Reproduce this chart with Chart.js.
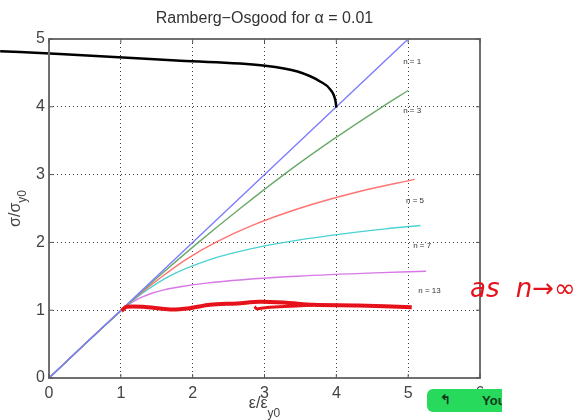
<!DOCTYPE html>
<html>
<head>
<meta charset="utf-8">
<script src="https://cdn.jsdelivr.net/npm/chart.js@4.4.0/dist/chart.umd.min.js"></script>
<style>
  html, body { margin: 0; padding: 0; background: #fff; }
  #wrap { position: relative; width: 582px; height: 420px; overflow: hidden; }
  #note { position: absolute; left: 470px; top: 273px; color: #e5121b;
          font: italic 26px "DejaVu Sans", sans-serif; white-space: nowrap; word-spacing: 8px; }
  #btn { position: absolute; left: 427px; top: 389px; width: 75px; height: 23px;
         background: #27da5b; border-radius: 6px 0 0 6px; overflow: hidden;
         font: bold 13px "Liberation Sans", Arial, sans-serif; color: #12391f; }
  #btn .ic { position: absolute; left: 13px; top: 3px; font-size: 13px; }
  #btn .tx { position: absolute; left: 55px; top: 4px; }
</style>
</head>
<body>
<div id="wrap">
  <canvas id="myChart" width="582" height="420"></canvas>
  <div id="note">as n→∞</div>
  <div id="btn"><span class="ic">↰</span><span class="tx">You</span></div>
</div>
<script>
// Ramberg-Osgood kurver, verdiar lesne av frå biletet
const xTicks = [0, 1, 2, 3, 4, 5, 6];
const yTicks = [0, 1, 2, 3, 4, 5];

const n1Eps = [0, 0.5, 1, 5];
const n1Sig = [0, 0.5, 1, 5];

const n3Eps = [0, 0.5, 1.01, 1.53, 2.08, 2.66, 3.27, 3.93, 4.64, 5.0];
const n3Sig = [0, 0.5, 1, 1.5, 2, 2.5, 3, 3.5, 4, 4.24];

const n5Eps = [0, 0.5, 1.01, 1.28, 1.58, 1.91, 2.32, 2.83, 3.48, 4.32, 5.09];
const n5Sig = [0, 0.5, 1, 1.25, 1.5, 1.75, 2, 2.25, 2.5, 2.75, 2.93];

const n7Eps = [0, 0.5, 1.01, 1.30, 1.67, 2.25, 2.79, 3.28, 3.90, 4.69, 5.17];
const n7Sig = [0, 0.5, 1, 1.25, 1.5, 1.75, 1.9, 2, 2.1, 2.2, 2.25];

const n13Eps = [0, 0.5, 1.01, 1.07, 1.13, 1.21, 1.31, 1.43, 1.60, 1.85, 2.19, 2.70, 3.45, 4.53, 5.25];
const n13Sig = [0, 0.5, 1, 1.05, 1.1, 1.15, 1.2, 1.25, 1.3, 1.35, 1.4, 1.45, 1.5, 1.55, 1.575];

const nNames = ['n = 1', 'n = 3', 'n = 5', 'n = 7', 'n = 13'];

// handteikna merknader
const redX = [1.01, 1.08, 1.31, 1.69, 1.96, 2.24, 2.62, 2.93, 3.3, 3.68, 4.3, 5.05];
const redY = [0.99, 1.05, 1.05, 1.01, 1.03, 1.08, 1.10, 1.125, 1.11, 1.08, 1.07, 1.045];
const loopX = [2.86, 2.9, 2.95, 3.2, 3.68];
const loopY = [1.05, 1.02, 1.03, 1.05, 1.075];
const blackX = [-0.68, 0.15, 1.83, 2.98, 3.46, 3.78, 3.92, 3.99, 4.0];
const blackY = [4.82, 4.78, 4.68, 4.61, 4.52, 4.37, 4.25, 4.075, 3.99];

function pts(xs, ys) {
  return xs.map((x, i) => ({ x: x, y: ys[i] }));
}

const labelPos = [[4.93, 4.66], [4.93, 3.94], [4.97, 2.61], [5.07, 1.95], [5.14, 1.29]];

function curve(data, color, extra) {
  return Object.assign({
    data: data,
    showLine: true,
    borderColor: color,
    borderWidth: 1.4,
    pointRadius: 0,
    cubicInterpolationMode: 'monotone'
  }, extra || {});
}

const boxPlugin = {
  id: 'box',
  afterDraw(chart) {
    const c = chart.ctx;
    const a = chart.chartArea;
    const xs = chart.scales.x;
    const ys = chart.scales.y;
    c.save();
    // ramme
    c.strokeStyle = '#707070';
    c.lineWidth = 2;
    c.strokeRect(a.left, a.top, a.right - a.left, a.bottom - a.top);
    // små tick-strekar innover
    c.lineWidth = 1;
    c.strokeStyle = '#555';
    xTicks.forEach(t => {
      const px = xs.getPixelForValue(t);
      c.beginPath();
      c.moveTo(px, a.bottom); c.lineTo(px, a.bottom - 4);
      c.moveTo(px, a.top); c.lineTo(px, a.top + 4);
      c.stroke();
    });
    yTicks.forEach(t => {
      const py = ys.getPixelForValue(t);
      c.beginPath();
      c.moveTo(a.left, py); c.lineTo(a.left + 4, py);
      c.moveTo(a.right, py); c.lineTo(a.right - 4, py);
      c.stroke();
    });
    // tittel
    c.fillStyle = '#333';
    c.font = '16px "Liberation Sans", Arial, sans-serif';
    c.textAlign = 'center';
    c.textBaseline = 'alphabetic';
    c.fillText('Ramberg\u2212Osgood for \u03b1 = 0.01', (a.left + a.right) / 2, 23);
    // x-aksetittel med senka y0
    c.fillStyle = '#444';
    const big = '16px "Liberation Sans", Arial, sans-serif';
    const small = '12px "Liberation Sans", Arial, sans-serif';
    c.font = big;
    const w1 = c.measureText('\u03b5/\u03b5').width;
    c.font = small;
    const w2 = c.measureText('y0').width;
    let x0 = (a.left + a.right) / 2 - (w1 + w2) / 2;
    c.textAlign = 'left';
    c.font = big;
    c.fillText('\u03b5/\u03b5', x0, 408);
    c.font = small;
    c.fillText('y0', x0 + w1, 417);
    // y-aksetittel
    c.translate(20, (a.top + a.bottom) / 2);
    c.rotate(-Math.PI / 2);
    c.font = big;
    const v1 = c.measureText('\u03c3/\u03c3').width;
    c.font = small;
    const v2 = c.measureText('y0').width;
    x0 = -(v1 + v2) / 2;
    c.font = big;
    c.fillText('\u03c3/\u03c3', x0, 0);
    c.font = small;
    c.fillText('y0', x0 + v1, 6);
    c.restore();
    // n-etikettar
    c.save();
    c.fillStyle = '#333';
    c.font = '8px "Liberation Sans", Arial, sans-serif';
    c.textAlign = 'left';
    c.textBaseline = 'middle';
    nNames.forEach((s, i) => {
      c.fillText(s, xs.getPixelForValue(labelPos[i][0]), ys.getPixelForValue(labelPos[i][1]));
    });
    c.restore();
  }
};

const ctx = document.getElementById('myChart');

new Chart(ctx, {
  type: 'scatter',
  data: {
    datasets: [
      curve(pts(blackX, blackY), '#000', { borderWidth: 2.5, clip: false }),
      curve(pts(redX, redY), '#e5121b', { borderWidth: 4, cubicInterpolationMode: 'default', tension: 0.3 }),
      curve(pts(loopX, loopY), '#e5121b', { borderWidth: 3, cubicInterpolationMode: 'default', tension: 0.3 }),
      curve(pts(n1Eps, n1Sig), 'rgb(125,125,255)'),
      curve(pts(n3Eps, n3Sig), 'rgb(105,170,105)'),
      curve(pts(n5Eps, n5Sig), 'rgb(255,115,115)'),
      curve(pts(n7Eps, n7Sig), 'rgb(75,210,210)'),
      curve(pts(n13Eps, n13Sig), 'rgb(215,120,230)')
    ]
  },
  options: {
    responsive: false,
    animation: false,
    layout: { padding: { top: 39, right: 102, left: 0, bottom: 0 } },
    plugins: {
      legend: { display: false },
      tooltip: { enabled: false },
      title: { display: false }
    },
    scales: {
      x: {
        type: 'linear',
        min: 0,
        max: 6,
        afterBuildTicks: s => { s.ticks = xTicks.map(v => ({ value: v })); },
        afterFit: s => { s.height = 42; },
        grid: { color: 'rgba(40,40,40,0.9)', lineWidth: 1, drawTicks: false },
        border: { display: false, dash: [1, 3] },
        ticks: { padding: 6, color: '#444', font: { family: '"Liberation Sans", Arial, sans-serif', size: 16 } }
      },
      y: {
        type: 'linear',
        min: 0,
        max: 5,
        afterBuildTicks: s => { s.ticks = yTicks.map(v => ({ value: v })); },
        afterFit: s => { s.width = 49; },
        grid: { color: 'rgba(40,40,40,0.9)', lineWidth: 1, drawTicks: false },
        border: { display: false, dash: [1, 3] },
        ticks: { padding: 4, color: '#444', font: { family: '"Liberation Sans", Arial, sans-serif', size: 16 } }
      }
    }
  },
  plugins: [boxPlugin]
});
</script>
</body>
</html>
